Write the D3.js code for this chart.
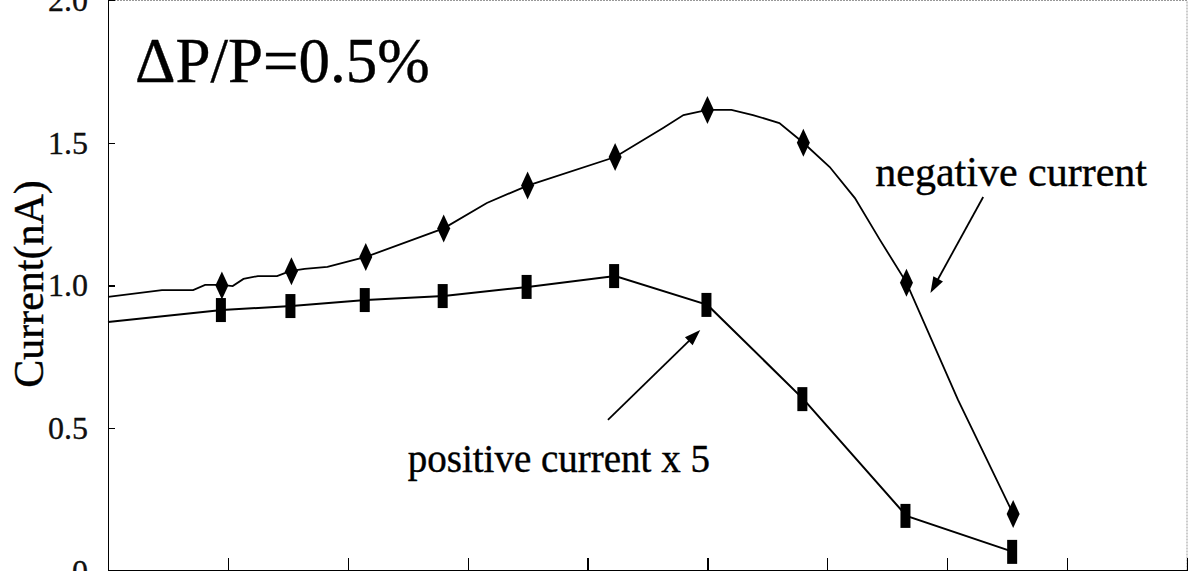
<!DOCTYPE html>
<html lang="en">
<head>
<meta charset="UTF-8">
<title>Current vs position</title>
<script src="https://d3js.org/d3.v7.min.js"></script>
<style>
    body { margin: 0; background: #fff; }
    svg { display: block; }
    text { font-family: "Liberation Serif", "Times New Roman", Times, "DejaVu Serif", serif; fill: #000; stroke: #000; stroke-width: 0.4; }
    .axis path, .axis line { stroke: #000; stroke-width: 1.3; shape-rendering: crispEdges; }
    .axis text { font-size: 32px; fill: #111; stroke-width: 0.3; }
    .frame { stroke: #999; stroke-dasharray: 2,1; fill: none; }
</style>
</head>
<body>
<script>
var serif = '"Liberation Serif", "Times New Roman", Times, "DejaVu Serif", serif';

// tick values on the y axis
var yTicks = [0, 0.5, 1.0, 1.5, 2.0];
var xTicks = [0, 1, 2, 3, 4, 5, 6, 7, 8, 9];

// marker positions (x in tick units), shared by both series
var markX = [0.95, 1.53, 2.15, 2.80, 3.50, 4.23, 5.00, 5.80, 6.66, 7.55];
var negMarkY = [1.00, 1.05, 1.10, 1.20, 1.35, 1.45, 1.615, 1.50, 1.01, 0.20];
var posMarkY = [0.914, 0.928, 0.949, 0.963, 0.995, 1.033, 0.932, 0.602, 0.193, 0.067];

// the negative current line has more vertices than markers
var negLineX = [0, 0.45, 0.71, 0.81, 0.89, 0.95, 1.04, 1.13, 1.25, 1.41, 1.48, 1.53, 1.64, 1.83,
    2.15, 2.80, 3.16, 3.50, 4.23, 4.63, 4.80, 5.00, 5.20, 5.38, 5.60, 5.80, 6.02, 6.23, 6.44, 6.66, 7.09, 7.55];
var negLineY = [0.96, 0.984, 0.984, 1.002, 1.002, 1.002, 0.998, 1.023, 1.033, 1.033, 1.044, 1.051, 1.058, 1.065,
    1.10, 1.20, 1.289, 1.35, 1.45, 1.552, 1.597, 1.615, 1.615, 1.597, 1.569, 1.50, 1.415, 1.306, 1.159, 1.01, 0.599, 0.20];

// positive line begins at the left edge
var posLineX = [0].concat(markX);
var posLineY = [0.872].concat(posMarkY);

var W = 1200, H = 571;
var m = {top: 0, right: 12, bottom: 0, left: 108};

var svg = d3.select("body").append("svg")
    .attr("width", W)
    .attr("height", H);

var x = d3.scaleLinear().domain([0, 9]).range([m.left, W - m.right - 1]);
var y = d3.scaleLinear().domain([0, 2]).range([H - m.bottom, m.top]);

// top and right border (light, dotted)
svg.append("path")
    .attr("class", "frame")
    .attr("d", "M" + x(0) + "," + (y(2) + 0.5) + "H" + x(9) + "V" + y(0));

var xAxis = d3.axisBottom(x).tickValues(xTicks).tickSizeInner(-12).tickSizeOuter(0).tickFormat("");
svg.append("g")
    .attr("class", "x axis")
    .attr("transform", "translate(0," + (y(0) - 1) + ")")
    .call(xAxis);

var yAxis = d3.axisLeft(y).tickValues(yTicks).tickSizeInner(-7).tickSizeOuter(0).tickPadding(20)
    .tickFormat(function(d) { return d === 0 ? "0" : d3.format(".1f")(d); });
svg.append("g")
    .attr("class", "y axis")
    .attr("transform", "translate(" + x(0) + ",0)")
    .call(yAxis)
    .attr("font-family", serif);

svg.selectAll(".axis text").style("font-family", serif);

var line = d3.line()
    .x(function(d) { return x(d[0]); })
    .y(function(d) { return y(d[1]); });

svg.append("path")
    .datum(d3.zip(negLineX, negLineY))
    .attr("d", line)
    .attr("fill", "none")
    .attr("stroke", "#000")
    .attr("stroke-width", 1.8);

svg.append("path")
    .datum(d3.zip(posLineX, posLineY))
    .attr("d", line)
    .attr("fill", "none")
    .attr("stroke", "#000")
    .attr("stroke-width", 2);

// diamonds
svg.selectAll(".dia")
    .data(d3.zip(markX, negMarkY))
    .enter().append("path")
    .attr("class", "dia")
    .attr("d", "M0,-14L6.5,0L0,14L-6.5,0Z")
    .attr("transform", function(d) { return "translate(" + x(d[0]) + "," + y(d[1]) + ")"; })
    .attr("fill", "#000");

// bars
svg.selectAll(".sq")
    .data(d3.zip(markX, posMarkY))
    .enter().append("rect")
    .attr("class", "sq")
    .attr("x", function(d) { return x(d[0]) - 6; })
    .attr("y", function(d) { return y(d[1]) - 12; })
    .attr("width", 10)
    .attr("height", 24)
    .attr("fill", "#000");

// y label
svg.append("text")
    .attr("transform", "translate(43," + 284 + ") rotate(-90)")
    .attr("text-anchor", "middle")
    .style("font-family", serif)
    .style("font-size", "42px")
    .text("Current(nA)");

// annotations
svg.append("text")
    .attr("x", x(0.225))
    .attr("y", y(1.713))
    .style("font-family", serif)
    .style("font-size", "63px")
    .text("\u0394P/P=0.5%");

svg.append("text")
    .attr("x", x(6.40))
    .attr("y", y(1.348))
    .style("font-family", serif)
    .style("font-size", "42px")
    .text("negative current");

svg.append("text")
    .attr("x", x(2.50))
    .attr("y", y(0.347))
    .style("font-family", serif)
    .style("font-size", "39px")
    .text("positive current x 5");

function arrow(x1, y1, x2, y2) {
    var px1 = x(x1), py1 = y(y1), px2 = x(x2), py2 = y(y2);
    var a = Math.atan2(py2 - py1, px2 - px1), L = 16, w = 5.5;
    svg.append("line")
        .attr("x1", px1).attr("y1", py1)
        .attr("x2", px2 - Math.cos(a) * L * 0.8).attr("y2", py2 - Math.sin(a) * L * 0.8)
        .attr("stroke", "#000").attr("stroke-width", 1.8);
    var bx = px2 - Math.cos(a) * L, by = py2 - Math.sin(a) * L;
    svg.append("path")
        .attr("d", "M" + px2 + "," + py2 +
            "L" + (bx - Math.sin(a) * w) + "," + (by + Math.cos(a) * w) +
            "L" + (bx + Math.sin(a) * w) + "," + (by - Math.cos(a) * w) + "Z")
        .attr("fill", "#000");
}

arrow(7.30, 1.31, 6.86, 0.974);
arrow(4.17, 0.529, 4.94, 0.844);
</script>
</body>
</html>
